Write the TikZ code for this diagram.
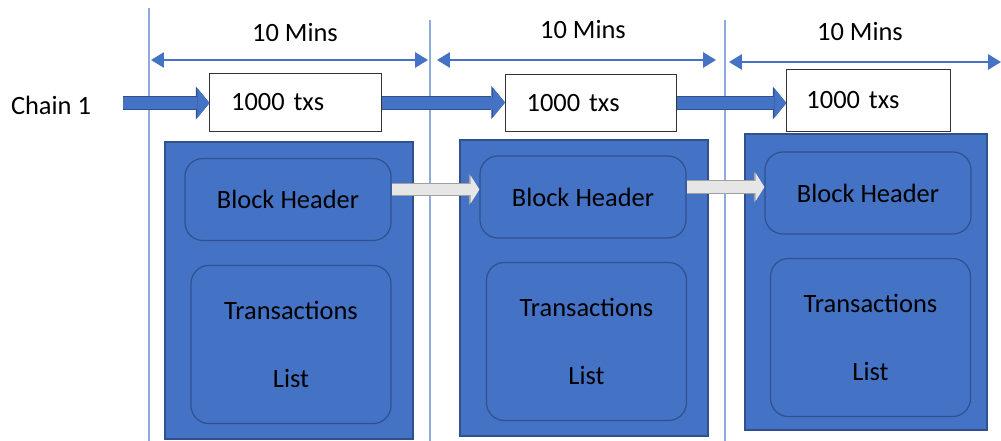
\documentclass[tikz,border=0pt]{standalone}
\usepackage{fontspec}
\setmainfont{Carlito}
\usetikzlibrary{arrows.meta}
\definecolor{officeblue}{HTML}{4472C4}
\definecolor{darkblue}{HTML}{2F528F}
\definecolor{lineblue}{HTML}{8FAADC}
\definecolor{lightgrey}{HTML}{E7E6E6}
\definecolor{midgrey}{HTML}{A0A0A0}

\begin{document}
\begin{tikzpicture}[x = 0.025cm, y = -0.025cm,
                      font = \fontsize{18.8}{22.5}\selectfont,
                      block/.style = {rectangle, draw = darkblue, fill = officeblue, line width = 0.04cm},
                      header/.style = {rectangle, rounded corners = 0.45cm, draw = darkblue, fill = officeblue, line width = 0.03cm, minimum width = 5.15cm, minimum height = 2.05cm},
                      txlist/.style = {header, minimum width = 5cm, minimum height = 3.95cm, align = center},
                      txsbox/.style = {rectangle, draw = black!80, fill = white, line width = 0.025cm, inner xsep = 0.53cm, text width = 3.215cm, minimum height = 1.425cm, align = left},
                      guide/.style = {draw = lineblue, line width = 0.04cm},
                      dimline/.style = {draw = officeblue, line width = 0.04cm, {Triangle[length = 0.32cm, width = 0.38cm]}-{Triangle[length = 0.32cm, width = 0.38cm]}},
                      chainarrow/.style = {draw = officeblue, line width = 0.3cm, -{Triangle[length = 0.3cm, width = 0.74cm, line width = 0pt]},
                                           preaction = {draw = darkblue, line width = 0.35cm, -{Triangle[length = 0.34cm, width = 0.82cm, line width = 0pt]}}},
                      link/.style = {draw = lightgrey, line width = 0.28cm, -{Triangle[length = 0.22cm, width = 0.7cm, line width = 0pt]},
                                     preaction = {draw = midgrey, line width = 0.33cm, -{Triangle[length = 0.26cm, width = 0.78cm, line width = 0pt]}}}]
    \useasboundingbox (0, 0) rectangle (1001, 441);

    \coordinate (g1t) at (149, 8);
    \coordinate (g1b) at (149, 441);
    \coordinate (g2t) at (430, 20);
    \coordinate (g2b) at (430, 441);
    \coordinate (g3t) at (725, 20);
    \coordinate (g3b) at (725, 441);
    \coordinate (s1l) at (151, 60);
    \coordinate (s1r) at (428, 60);
    \coordinate (s2l) at (437, 60);
    \coordinate (s2r) at (716, 60);
    \coordinate (s3l) at (729, 62);
    \coordinate (s3r) at (1001, 62);
    \coordinate (start) at (123, 103);

    \draw [guide] (g1t) -- (g1b);
    \draw [guide] (g2t) -- (g2b);
    \draw [guide] (g3t) -- (g3b);

    \node (min1) at (295, 33){10 Mins};
    \node (min2) at (583, 30){10 Mins};
    \node (min3) at (860, 32){10 Mins};
    \node (chain) at (51, 105){Chain 1};

    \node [block, minimum width = 6.2cm, minimum height = 7.425cm] (blk1) at (289, 290.5){};
    \node [block, minimum width = 6.2cm, minimum height = 7.4cm] (blk2) at (584, 288){};
    \node [block, minimum width = 6.05cm, minimum height = 7.4cm] (blk3) at (866, 282){};

    \node [header] (hdr1) at (288, 199.5){Block Header};
    \node [header] (hdr2) at (583, 197){Block Header};
    \node [header] (hdr3) at (868, 193){Block Header};
    \node [txlist] (txl1) at (291, 344.5){Transactions\\[0.9cm]List};
    \node [txlist] (txl2) at (586.5, 341.5){Transactions\\[0.9cm]List};
    \node [txlist] (txl3) at (870.5, 337.5){Transactions\\[0.9cm]List};

    \node [txsbox] (txs1) at (295.5, 102.5){1000 txs};
    \node [txsbox] (txs2) at (591, 103){1000 txs};
    \node [txsbox, text width = 3.1cm, inner xsep = 0.49cm, minimum height = 1.525cm] (txs3) at (868.5, 100.5){1000 txs};

    \draw [dimline] (s1l) -- (s1r);
    \draw [dimline] (s2l) -- (s2r);
    \draw [dimline] (s3l) -- (s3r);

    \draw [chainarrow] (start) -- (start -| txs1.west);
    \draw [chainarrow] (txs1.east) -- (txs1.east -| txs2.west);
    \draw [chainarrow] (txs2.east) -- (txs2.east -| txs3.west);

    \draw [link] ([yshift = 0.25cm]hdr1.east) -- ([yshift = 0.25cm]hdr1.east -| hdr2.west);
    \draw [link] ([yshift = 0.25cm]hdr2.east) -- ([yshift = 0.25cm]hdr2.east -| hdr3.west);
\end{tikzpicture}
\end{document}
